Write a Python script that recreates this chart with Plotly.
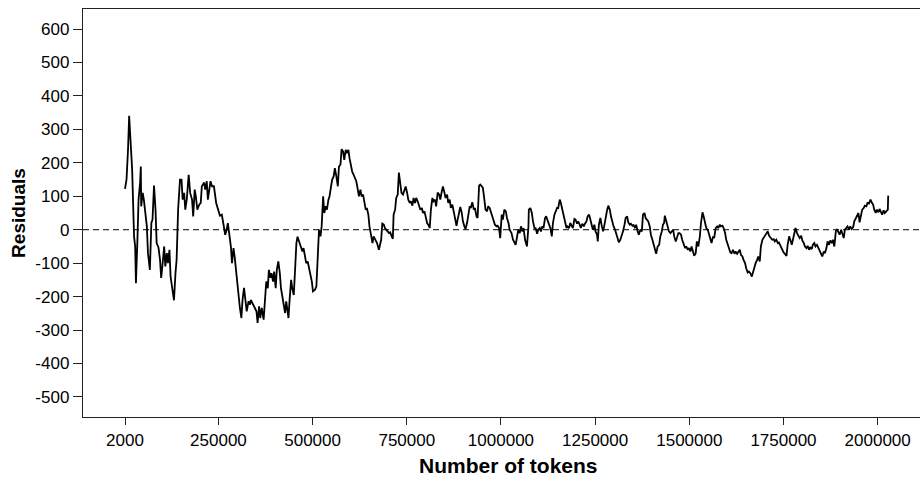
import plotly.graph_objects as go

# Residuals of the running token-count model, sampled along the corpus
tokens = [
    2000, 6000, 10000, 13000, 17000, 21000, 24000, 26000, 29000, 31000, 35000, 38000,
    42000, 44000, 45000, 49000, 52000, 56000, 60000, 63000, 68000, 72000, 75000, 79000,
    83000, 86000, 91000, 95000, 98000, 102000, 106000, 109000, 113000, 116000, 120000,
    123000, 127000, 132000, 136000, 139000, 143000, 148000, 152000, 155000, 159000,
    162000, 166000, 171000, 175000, 180000, 183000, 187000, 190000, 194000, 199000,
    203000, 206000, 212000, 215000, 219000, 222000, 226000, 229000, 233000, 238000,
    244000, 249000, 254000, 259000, 265000, 268000, 272000, 275000, 279000, 283000,
    286000, 290000, 293000, 297000, 300000, 304000, 307000, 311000, 314000, 318000,
    321000, 325000, 330000, 334000,
    336000, 342000, 347000, 351000, 354000, 358000, 361000, 365000, 370000, 374000,
    377000, 381000, 384000, 388000, 391000, 395000, 398000, 402000, 405000, 409000,
    413000, 416000, 421000, 427000, 430000, 436000, 439000, 443000, 446000, 450000,
    453000, 457000, 460000, 464000, 469000, 473000, 476000, 480000, 483000, 487000,
    490000, 494000, 498000, 501000, 506000, 510000, 513000, 517000, 521000, 524000,
    528000, 531000, 535000, 538000, 542000, 545000, 549000, 552000, 556000, 559000,
    563000, 567000, 570000, 574000, 577000, 581000, 584000, 588000, 591000, 595000,
    598000, 602000, 605000, 609000, 613000, 616000, 620000, 623000, 627000, 630000,
    634000, 637000, 641000, 644000, 648000, 651000, 655000, 659000, 662000, 666000,
    671000, 676000,
    682000, 685000, 689000, 692000, 696000, 699000, 703000, 706000, 710000, 713000,
    715000, 719000, 722000, 726000, 729000, 733000, 736000, 740000, 744000, 747000,
    751000, 754000, 758000, 761000, 765000, 768000, 772000, 775000, 779000, 782000,
    786000, 790000, 793000, 797000, 800000, 804000, 807000, 811000, 814000, 818000,
    821000, 825000, 828000, 832000, 836000, 839000, 843000, 846000, 850000, 853000,
    857000, 860000, 864000, 867000, 871000, 874000, 878000, 882000, 885000, 889000,
    892000, 896000, 899000, 903000, 906000, 910000, 913000, 917000, 920000, 924000,
    928000, 931000, 935000, 938000, 942000, 945000, 949000, 952000, 956000, 959000,
    963000, 966000, 970000, 974000, 977000, 981000, 984000, 988000, 991000, 995000,
    998000, 1002000, 1005000, 1009000, 1013000, 1016000, 1020000, 1023000,
    1028000, 1032000, 1036000, 1039000, 1043000, 1046000, 1050000, 1053000, 1057000,
    1060000, 1064000, 1067000, 1069000, 1073000, 1074000, 1078000, 1082000, 1085000,
    1089000, 1092000, 1096000, 1099000, 1103000, 1106000, 1110000, 1113000, 1117000,
    1120000, 1124000, 1128000, 1131000, 1135000, 1138000, 1142000, 1145000, 1149000,
    1152000, 1156000, 1159000, 1163000, 1166000, 1170000, 1174000, 1177000, 1181000,
    1184000, 1188000, 1191000, 1195000, 1198000, 1202000, 1205000, 1209000, 1212000,
    1216000, 1220000, 1223000, 1227000, 1230000, 1234000, 1237000, 1241000, 1244000,
    1248000, 1251000, 1255000, 1257000, 1260000, 1264000, 1267000, 1271000, 1274000,
    1278000, 1282000, 1285000, 1289000, 1292000, 1296000, 1299000, 1303000, 1306000,
    1310000, 1313000, 1317000, 1320000, 1324000, 1328000, 1331000, 1335000, 1338000,
    1342000, 1345000, 1349000, 1352000, 1356000, 1359000, 1363000, 1366000,
    1370000, 1374000, 1377000, 1381000, 1384000, 1388000, 1391000, 1395000, 1398000,
    1402000, 1405000, 1409000, 1412000, 1416000, 1420000, 1423000, 1427000, 1430000,
    1433000, 1435000, 1439000, 1443000, 1446000, 1450000, 1453000, 1457000, 1460000,
    1464000, 1467000, 1471000, 1474000, 1478000, 1481000, 1485000, 1489000, 1492000,
    1496000, 1499000, 1503000, 1506000, 1510000, 1513000, 1517000, 1520000, 1524000,
    1528000, 1531000, 1535000, 1538000, 1542000, 1545000, 1549000, 1552000, 1556000,
    1559000, 1563000, 1566000, 1570000, 1574000, 1577000, 1581000, 1584000, 1588000,
    1591000, 1595000, 1598000, 1602000, 1605000, 1609000, 1612000, 1616000, 1620000,
    1623000, 1627000, 1630000, 1634000, 1637000, 1641000, 1644000, 1648000, 1651000,
    1655000, 1658000, 1662000, 1666000, 1669000, 1673000, 1676000, 1680000, 1683000,
    1687000, 1690000, 1694000, 1697000, 1701000, 1704000, 1708000, 1712000,
    1717000, 1720000, 1724000, 1727000, 1731000, 1735000, 1738000, 1742000, 1745000,
    1749000, 1752000, 1756000, 1758000, 1761000, 1765000, 1768000, 1772000, 1775000,
    1779000, 1782000, 1786000, 1789000, 1793000, 1797000, 1800000, 1804000, 1807000,
    1811000, 1814000, 1818000, 1821000, 1825000, 1828000, 1832000, 1835000, 1839000,
    1843000, 1846000, 1850000, 1853000, 1857000, 1860000, 1864000, 1867000, 1871000,
    1874000, 1878000, 1881000, 1885000, 1889000, 1892000, 1896000, 1899000, 1903000,
    1906000, 1910000, 1913000, 1917000, 1920000, 1924000, 1927000, 1931000, 1935000,
    1938000, 1942000, 1945000, 1949000, 1952000, 1956000, 1959000, 1963000, 1966000,
    1970000, 1973000, 1977000, 1981000, 1984000, 1988000, 1991000, 1995000, 1998000,
    2002000, 2005000, 2009000, 2012000, 2016000, 2019000, 2023000, 2027000, 2028000,
]

residuals = [
    122, 150, 239, 341, 260, 179, 60, -20, -50, -160, -30, 90,
    140, 189, 70, 110, 90, 45, 10, -70, -120, 20, 30, 132,
    60, -40, -54, -90, -144, -100, -50, -110, -70, -100, -60,
    -140, -170, -211, -130, -90, 60, 150, 150, 90, 110,
    60, 90, 164, 110, 90, 40, 120, 100, 60, 75,
    80, 130, 141, 120, 145, 90, 120, 145, 130, 130,
    80, 60, 42, 45, 10, -15, 0, 20, -15, -50,
    -100, -55, -80, -130, -150, -200, -234, -264, -210, -174,
    -210, -244, -214, -224,
    -210, -224, -234, -244, -279, -229, -264, -234, -269, -200,
    -155, -175, -120, -144, -130, -155, -125, -175, -120, -95,
    -130, -175, -209, -249, -214, -264, -209, -150, -175, -195,
    -130, -40, -21, -35, -50, -65, -55, -80, -100, -95,
    -110, -130, -155, -184, -180, -170, -90, 0, -20, 10,
    100, 50, 70, 60, 90, 100, 130, 150, 160, 184,
    160, 130, 189, 195, 241, 234, 209, 239, 229, 239,
    214, 189, 174, 164, 150, 145, 120, 100, 120, 100,
    105, 90, 60, 65, 45, 10, -15, -40, -20, -30,
    -40, -60,
    -30, 18, 15, 5, -2, -5, -10, -8, -20, -27,
    45, 60, 95, 105, 171, 135, 110, 105, 120, 129,
    110, 90, 80, 85, 72, 95, 80, 95, 85, 72,
    60, 65, 50, 55, 35, 20, 15, 5, 60, 95,
    85, 90, 70, 111, 105, 90, 115, 129, 111, 95,
    105, 80, 90, 65, 75, 60, 40, 12, 30, 50,
    68, 50, 25, 10, 2, 20, 45, 70, 65, 82,
    60, 65, 40, 35, 132, 135, 130, 125, 90, 60,
    55, 70, 65, 50, 45, 25, 15, 10, 12, 5,
    -25, 45, 30, 60, 55, 35, 20, 0,
    -10, -30, -42, -45, -20, 0, -10, 10, -5,
    5, -30, -45, -50, 10, 60, 65, 50, 25,
    5, 5, -12, 0, 5, -5, 10, 5, 35,
    40, 25, 15, 5, -20, 20, 45, 55, 65,
    65, 90, 80, 60, 35, 15, 5, 10, 5,
    20, 10, 5, 32, 30, 18, 25, 15, 5,
    18, 10, 18, 25, 40, 45, 32, 10, 0,
    15, -5, -15, -35, 15, 35, 15, -5, 10,
    40, 60, 72, 60, 40, 20, 10, 0, -10,
    -25, -38, -30, -20, -5, 15, 35, 40, 22,
    15, 18, 12, 14, 5, 15, -5, -15,
    0, -5, 45, 50, 35, 30, 25, 10, -15,
    -30, -45, -55, -72, -50, -45, -20, -5, 15,
    20, 42, 25, 10, -5, -10, -5, 0, -20,
    -35, -25, -10, -10, -15, -30, -40, -55, -50,
    -60, -55, -65, -50, -70, -78, -70, -35, -50,
    -20, 20, 52, 40, 20, 5, 0, -10, -30,
    -40, -20, -25, 5, 10, 5, 15, 10, 12,
    5, -10, -30, -45, -55, -68, -70, -60, -72,
    -65, -72, -65, -60, -75, -80, -90, -100, -115,
    -128, -125, -130, -140, -125, -105, -100, -90, -80,
    -95, -50, -30, -25, -15, -10, -5, -18,
    -25, -30, -28, -35, -30, -40, -38, -50, -55,
    -65, -70, -75, -78, -45, -20, -30, -45, -30,
    -5, 5, -10, -15, -25, -18, -32, -40, -50,
    -55, -48, -60, -52, -58, -45, -40, -50, -45,
    -55, -65, -75, -80, -65, -70, -55, -35, -45,
    -32, -40, -30, -50, -5, 2, -10, -15, 0,
    -10, -25, 0, 5, 10, 0, 10, 2, 8,
    25, 35, 45, 50, 22, 40, 60, 65, 72,
    70, 80, 78, 90, 82, 75, 60, 50, 60,
    52, 62, 50, 45, 58, 50, 55, 60, 102,
]

x_tickvals = [2000, 250000, 500000, 750000, 1000000, 1250000, 1500000, 1750000, 2000000]
x_ticktext = ["2000", "250000", "500000", "750000", "1000000", "1250000", "1500000", "1750000", "2000000"]
y_tickvals = [600, 500, 400, 300, 200, 100, 0, -100, -200, -300, -400, -500]
y_ticktext = ["600", "500", "400", "300", "200", "100", "0", "-100", "-200", "-300", "-400", "-500"]

FONT = "Arial, 'Liberation Sans', sans-serif"
AXIS_COLOR = "#222222"

fig = go.Figure()
fig.add_trace(go.Scatter(
    x=tokens, y=residuals, mode="lines",
    line=dict(color="black", width=1.8),
    hoverinfo="skip", showlegend=False,
))

# dashed reference line at zero residual
fig.add_shape(
    type="line", xref="paper", x0=0, x1=1, yref="y", y0=0, y1=0,
    line=dict(color="black", width=1, dash="6px,4px"), layer="below",
)

# x-axis title, placed slightly right of the plot centre
fig.add_annotation(
    text="<b>Number of tokens</b>", xref="paper", yref="paper",
    x=0.5078, y=0, xanchor="center", yanchor="middle", yshift=-48,
    showarrow=False, font=dict(size=21, family=FONT, color="black"),
)

fig.update_layout(
    width=920, height=477,
    margin=dict(l=83, r=0, t=9, b=60),
    paper_bgcolor="white", plot_bgcolor="white",
    font=dict(family=FONT, color="black"),
    xaxis=dict(
        range=[-109500, 2112400],
        tickvals=x_tickvals, ticktext=x_ticktext,
        ticks="outside", ticklen=7, tickwidth=1.3, tickcolor=AXIS_COLOR,
        tickfont=dict(size=17, family=FONT, color="black"),
        showline=True, linecolor=AXIS_COLOR, linewidth=1.4, mirror=True,
        showgrid=False, zeroline=False,
    ),
    yaxis=dict(
        range=[-560, 660],
        tickvals=y_tickvals, ticktext=y_ticktext,
        ticks="outside", ticklen=9, tickwidth=1.3, tickcolor=AXIS_COLOR,
        tickfont=dict(size=17, family=FONT, color="black"),
        showline=True, linecolor=AXIS_COLOR, linewidth=1.4,
        showgrid=False, zeroline=False,
        title=dict(text="<b>Residuals</b>", font=dict(size=19, family=FONT), standoff=4),
    ),
)

fig.write_html("out.html")
